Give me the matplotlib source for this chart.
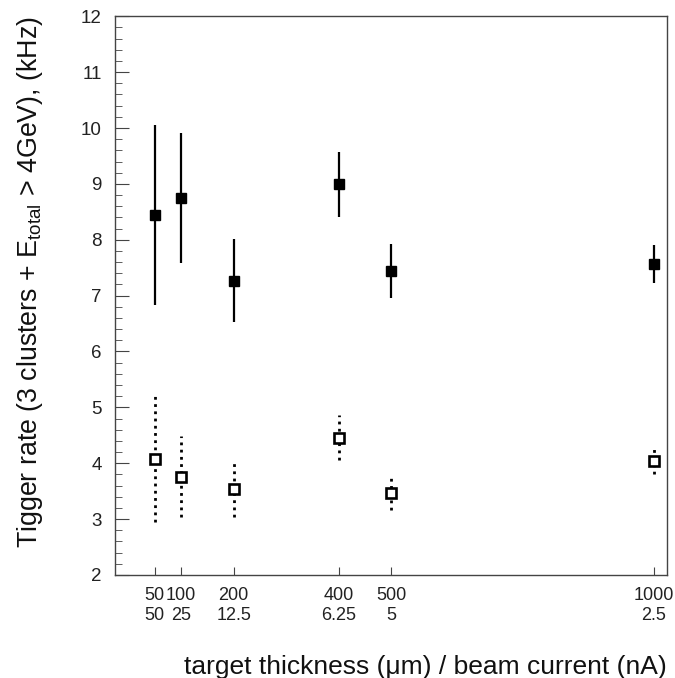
"""
Trigger rate vs target thickness / beam current.
"""
import matplotlib

matplotlib.use("Agg")
import matplotlib.pyplot as plt
from matplotlib.ticker import MultipleLocator

# data
thickness = [50, 100, 200, 400, 500, 1000]          # target thickness (um)
current = ["50", "25", "12.5", "6.25", "5", "2.5"]   # beam current (nA)
rate_filled = [8.44, 8.75, 7.27, 8.99, 7.44, 7.56]
err_filled = [1.61, 1.16, 0.74, 0.58, 0.48, 0.34]
rate_open = [4.07, 3.76, 3.53, 4.46, 3.47, 4.04]
err_open = [1.13, 0.73, 0.50, 0.41, 0.30, 0.24]

plt.rcParams.update(
    {
        "font.family": ["Liberation Sans", "DejaVu Sans"],
        "mathtext.fontset": "custom",
        "mathtext.rm": "Liberation Sans",
        "mathtext.it": "Liberation Sans:italic",
    }
)

FRAME = "#444444"


def main():
    fig = plt.figure(figsize=(6.75, 6.78), dpi=100)
    ax = fig.add_axes([0.171, 0.152, 0.817, 0.824])

    ax.errorbar(thickness, rate_filled, yerr=err_filled, fmt="s", color="black",
                markersize=7.5, elinewidth=1.6, capsize=0)

    eb = ax.errorbar(thickness, rate_open, yerr=err_open, fmt="s", color="black",
                     markerfacecolor="white", markeredgewidth=1.9, markersize=7.8,
                     elinewidth=2.0, capsize=0)
    eb[2][0].set_linestyle((0, (1.0, 1.6)))

    ax.set_xlim(-25, 1025)
    ax.set_ylim(2, 12)
    ax.set_xticks(thickness)
    ax.set_xticklabels([f"{t}\n{c}" for t, c in zip(thickness, current)],
                       linespacing=1.2)
    ax.yaxis.set_major_locator(MultipleLocator(1))
    ax.yaxis.set_minor_locator(MultipleLocator(0.2))

    ax.tick_params(axis="both", which="both", direction="in", color=FRAME,
                   labelsize=13, labelcolor="#222222")
    ax.tick_params(axis="y", which="major", length=10, pad=10, labelsize=13.5)
    ax.tick_params(axis="y", which="minor", length=5)
    ax.tick_params(axis="x", which="major", length=6, pad=9)
    for sp in ax.spines.values():
        sp.set_color(FRAME)
        sp.set_linewidth(1.0)

    ax.set_xlabel("target thickness (\u03bcm) / beam current (nA)", fontsize=19,
                  ha="right", color="#111111")
    ax.xaxis.set_label_coords(1.0, -0.143)
    ax.set_ylabel("Tigger rate (3 clusters + E$_{\\rm total}$ > 4GeV), (kHz)",
                  fontsize=19.3, ha="right", color="#111111")
    ax.yaxis.set_label_coords(-0.128, 1.0)

    fig.savefig("out.png", dpi=100, facecolor="white")
    plt.close(fig)


if __name__ == "__main__":
    main()
